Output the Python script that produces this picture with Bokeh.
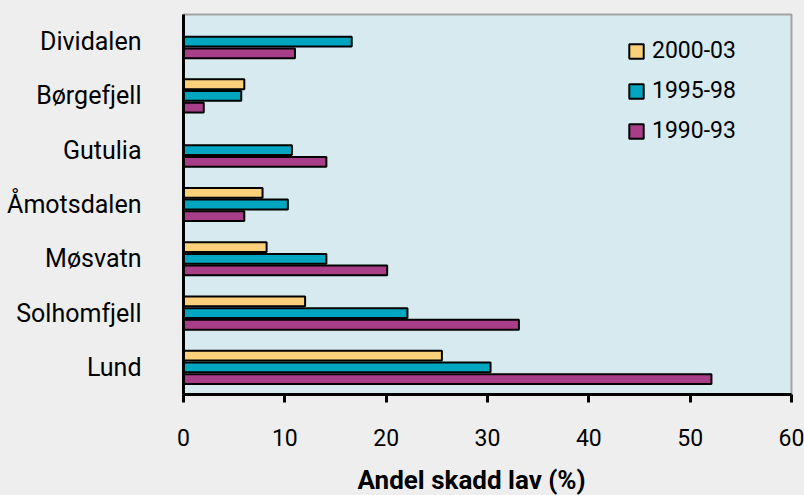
from bokeh.plotting import figure
from bokeh.models import FactorRange, ColumnDataSource, Legend, LegendItem, Title
from bokeh.transform import dodge
from bokeh.embed import file_html
from bokeh.resources import INLINE

categories = ["Dividalen", "Børgefjell", "Gutulia", "Åmotsdalen", "Møsvatn", "Solhomfjell", "Lund"]
series_names = ["2000-03", "1995-98", "1990-93"]
v2000 = [None, 6.0, None, 7.8, 8.2, 12.0, 25.5]
v1995 = [16.6, 5.7, 10.7, 10.3, 14.1, 22.1, 30.3]
v1990 = [11.0, 2.0, 14.1, 6.0, 20.1, 33.1, 52.1]
colors = ["#FAD07A", "#00A6BF", "#A83E88"]
x_ticks = [0, 10, 20, 30, 40, 50, 60]
x_label = "Andel skadd lav (%)"

FONT = "Roboto"

p = figure(
    y_range=FactorRange(factors=list(reversed(categories)), range_padding=0),
    x_range=(0, 60),
    frame_width=608, frame_height=380,
    min_border_left=183, min_border_right=13, min_border_top=14, min_border_bottom=101,
    output_backend="svg", toolbar_location=None,
)
p.background_fill_color = "#D6EAF0"
p.border_fill_color = "#EEEEEE"
p.outline_line_color = "#A3A3A3"
p.outline_line_width = 2
p.grid.visible = False

offsets = [0.215, 0.0, -0.215]
renderers = []
for name, vals, col, off in zip(series_names, [v2000, v1995, v1990], colors, offsets):
    cats = [c for c, v in zip(categories, vals) if v is not None]
    vv = [v for v in vals if v is not None]
    src = ColumnDataSource(dict(cat=cats, val=vv))
    r = p.hbar(y=dodge("cat", off, range=p.y_range), right="val", left=0, height=0.18,
               source=src, fill_color=col, line_color="black", line_width=2)
    renderers.append((name, r))

legend = Legend(items=[LegendItem(label=n, renderers=[r]) for n, r in renderers],
                location=(444, 250), padding=0, margin=0, spacing=13,
                glyph_width=18, glyph_height=18, label_height=20,
                label_text_font=FONT, label_text_font_size="23px", label_standoff=7,
                label_text_color="black",
                background_fill_alpha=0, border_line_alpha=0)
p.add_layout(legend, "center")

p.xaxis.ticker = x_ticks
p.xaxis.axis_line_width = 3
p.xaxis.axis_line_color = "black"
p.xaxis.major_tick_line_width = 3
p.xaxis.major_tick_line_color = "black"
p.xaxis.major_tick_out = 8
p.xaxis.major_tick_in = 0
p.xaxis.minor_tick_line_color = None
p.xaxis.major_label_text_font = FONT
p.xaxis.major_label_text_font_size = "23px"
p.xaxis.major_label_text_color = "black"
p.xaxis.major_label_standoff = 26

p.yaxis.axis_line_width = 3
p.yaxis.axis_line_color = "black"
p.yaxis.major_tick_line_color = None
p.yaxis.minor_tick_line_color = None
p.yaxis.major_label_text_font = FONT
p.yaxis.major_label_text_font_size = "25px"
p.yaxis.major_label_text_color = "black"
p.yaxis.major_label_standoff = 36

xt = Title(text=x_label, align="left", offset=174, standoff=28,
           text_font=FONT, text_font_size="26px", text_font_style="bold",
           text_color="black")
p.add_layout(xt, "below")

html = file_html(p, INLINE)
html = html.replace("</head>", "<style>body{background:#EEEEEE;}</style></head>", 1)
open("out.html", "w").write(html)
